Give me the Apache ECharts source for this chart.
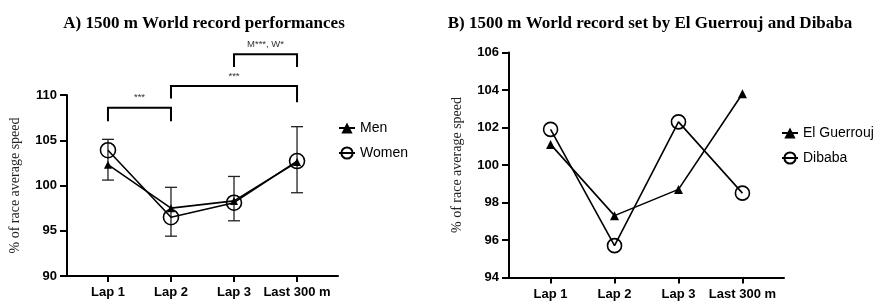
<!DOCTYPE html>
<html>
<head>
<meta charset="utf-8">
<script src="https://cdn.jsdelivr.net/npm/echarts@6/dist/echarts.min.js"></script>
<style>
  html, body { margin: 0; padding: 0; background: #fff; }
  #chart { width: 884px; height: 304px; }
</style>
</head>
<body>
<div id="chart"></div>
<script>
// categories (shared by both panels)
var laps = ['Lap 1', 'Lap 2', 'Lap 3', 'Last 300 m']

// A) world record performances, mean % of race average speed
var men = [102.3, 97.5, 98.3, 102.6]
var women = [103.9, 96.5, 98.1, 102.7]
// error bar low / high for each lap
var errLow = [100.6, 94.4, 96.1, 99.2]
var errHigh = [105.1, 99.8, 101.0, 106.5]
// significance brackets: [from lap, to lap, bar level, left foot, right foot, label]
var brackets = [
  [0, 1, 108.6, 107.1, 107.1, '***'],
  [1, 3, 111.0, 109.6, 109.2, '***'],
  [2, 3, 114.5, 113.1, 113.1, 'M***, W*']
]

// B) El Guerrouj and Dibaba
var guerrouj = [101.1, 97.3, 98.7, 103.8]
var dibaba = [101.9, 95.7, 102.3, 98.5]

var tickFont = { fontFamily: 'Liberation Sans, Arial', fontWeight: 'bold', fontSize: 13, color: '#000' }
var lapIdx = [0, 1, 2, 3]

function pairs (arr) {
  return arr.map(function (v, i) { return [i, v] })
}

function xAxisFor (gridIndex) {
  return {
    type: 'value',
    gridIndex: gridIndex,
    min: -0.65,
    max: 3.65,
    splitLine: { show: false },
    axisLine: { show: true, onZero: false, lineStyle: { color: '#000', width: 2 } },
    axisTick: { show: true, customValues: lapIdx, length: 6, lineStyle: { color: '#000', width: 2 } },
    axisLabel: Object.assign({
      customValues: lapIdx,
      margin: 10,
      formatter: function (v) { return laps[Math.round(v)] }
    }, tickFont)
  }
}

function yAxisFor (gridIndex, min, max, interval) {
  return {
    type: 'value',
    gridIndex: gridIndex,
    min: min,
    max: max,
    interval: interval,
    name: '% of race average speed',
    nameLocation: 'middle',
    nameGap: 45,
    nameTextStyle: { fontFamily: 'Liberation Serif, Times New Roman', fontSize: 14, color: '#222' },
    splitLine: { show: false },
    axisLine: { show: true, onZero: false, lineStyle: { color: '#000', width: 2 } },
    axisTick: { show: true, length: 7, lineStyle: { color: '#000', width: 2 } },
    axisLabel: Object.assign({ margin: 10 }, tickFont)
  }
}

function lineSeries (name, data, sym, size, idx) {
  return {
    name: name,
    type: 'line',
    xAxisIndex: idx,
    yAxisIndex: idx,
    data: pairs(data),
    symbol: sym,
    symbolSize: size,
    showSymbol: true,
    lineStyle: { color: '#000', width: 1.6 },
    itemStyle: sym === 'circle'
      ? { color: 'rgba(255,255,255,0)', borderColor: '#000', borderWidth: 1.6 }
      : { color: '#000' },
    z: 3
  }
}

var chart = echarts.init(document.getElementById('chart'))

chart.setOption({
  animation: false,
  title: [
    {
      text: 'A) 1500 m World record performances',
      left: 199,
      top: 10,
      textAlign: 'center',
      textStyle: { fontFamily: 'Liberation Serif, Times New Roman', fontWeight: 'bold', fontSize: 17, color: '#000' }
    },
    {
      text: 'B) 1500 m World record set by El Guerrouj and Dibaba',
      left: 645,
      top: 10,
      textAlign: 'center',
      textStyle: { fontFamily: 'Liberation Serif, Times New Roman', fontWeight: 'bold', fontSize: 17, color: '#000' }
    }
  ],
  legend: [
    {
      data: ['Men', 'Women'],
      orient: 'vertical',
      left: 333,
      top: 116,
      itemGap: 11,
      itemWidth: 16,
      itemHeight: 14,
      textStyle: { fontFamily: 'Liberation Sans, Arial', fontSize: 14, color: '#000' }
    },
    {
      data: ['El Guerrouj', 'Dibaba'],
      orient: 'vertical',
      left: 776,
      top: 121,
      itemGap: 11,
      itemWidth: 16,
      itemHeight: 14,
      textStyle: { fontFamily: 'Liberation Sans, Arial', fontSize: 14, color: '#000' }
    }
  ],
  grid: [
    { left: 67, top: 95, width: 271, height: 181 },
    { left: 509, top: 52.5, width: 275, height: 225 }
  ],
  xAxis: [xAxisFor(0), xAxisFor(1)],
  yAxis: [yAxisFor(0, 90, 110, 5), yAxisFor(1, 94, 106, 2)],
  series: [
    // error bars
    {
      type: 'custom',
      xAxisIndex: 0,
      yAxisIndex: 0,
      data: errLow.map(function (lo, i) { return [i, lo, errHigh[i]] }),
      renderItem: function (params, api) {
        var lo = api.coord([api.value(0), api.value(1)])
        var hi = api.coord([api.value(0), api.value(2)])
        var w = 6
        var st = { stroke: '#222', lineWidth: 1.3 }
        return {
          type: 'group',
          children: [
            { type: 'line', shape: { x1: hi[0], y1: hi[1], x2: lo[0], y2: lo[1] }, style: st },
            { type: 'line', shape: { x1: hi[0] - w, y1: hi[1], x2: hi[0] + w, y2: hi[1] }, style: st },
            { type: 'line', shape: { x1: lo[0] - w, y1: lo[1], x2: lo[0] + w, y2: lo[1] }, style: st }
          ]
        }
      },
      z: 2
    },
    // significance brackets above panel A
    {
      type: 'custom',
      xAxisIndex: 0,
      yAxisIndex: 0,
      clip: false,
      data: brackets,
      renderItem: function (params, api) {
        var b = brackets[params.dataIndex]
        var pl = api.coord([b[0], b[2]])
        var pr = api.coord([b[1], b[2]])
        var fl = api.coord([b[0], b[3]])
        var fr = api.coord([b[1], b[4]])
        return {
          type: 'group',
          children: [
            {
              type: 'polyline',
              shape: { points: [[fl[0], fl[1]], [pl[0], pl[1]], [pr[0], pr[1]], [fr[0], fr[1]]] },
              style: { stroke: '#000', lineWidth: 2, fill: null }
            },
            {
              type: 'text',
              x: (pl[0] + pr[0]) / 2,
              y: pl[1] - 5,
              style: {
                text: b[5],
                align: 'center',
                verticalAlign: 'bottom',
                fontFamily: 'Liberation Sans, Arial',
                fontSize: 9.5,
                fill: '#333'
              }
            }
          ]
        }
      }
    },
    lineSeries('Men', men, 'triangle', 8, 0),
    lineSeries('Women', women, 'circle', 15, 0),
    lineSeries('El Guerrouj', guerrouj, 'triangle', 9, 1),
    lineSeries('Dibaba', dibaba, 'circle', 14, 1)
  ]
})
</script>
</body>
</html>
